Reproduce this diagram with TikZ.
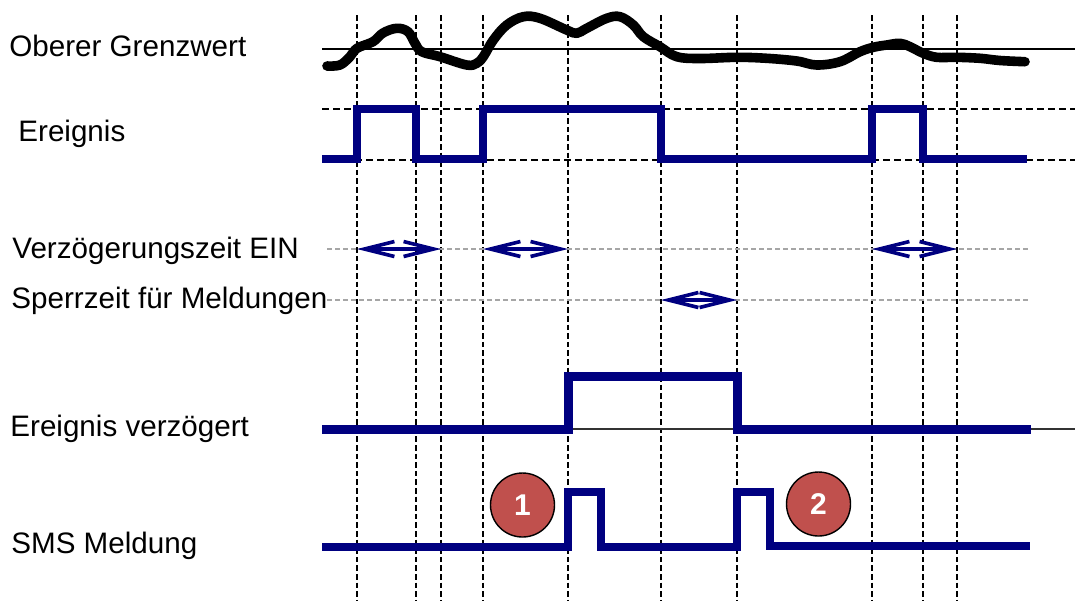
\documentclass[tikz,border=0pt]{standalone}
\usepackage{fontspec}
\setmainfont{Liberation Sans}
\usepackage{xcolor}
\usetikzlibrary{arrows.meta}
\definecolor{sigblue}{HTML}{000080}
\definecolor{markred}{HTML}{C0504D}
\definecolor{dotgray}{HTML}{A6A6A6}

\begin{document}
\begin{tikzpicture}[x=0.5pt, y=-0.5pt,
    signal/.style={draw=sigblue, line width=4pt, line join=miter},
    timeline/.style={black, line width=0.6pt, dash pattern=on 2.8pt off 1.5pt},
    levelline/.style={black, line width=0.6pt, dash pattern=on 3.5pt off 2pt},
    spanline/.style={dotgray, line width=1pt, dash pattern=on 2.5pt off 1.5pt},
    span/.style={sigblue, line width=1.8pt, {Straight Barb[length=15pt, width=7.5pt]}-{Straight Barb[length=15pt, width=7.5pt]}},
    lbl/.style={anchor=base west, inner sep=0pt, font=\fontsize{14.8}{17}\selectfont},
    marker/.style={circle, draw=black, line width=0.7pt, fill=markred, minimum size=32pt,
      inner sep=0pt, text=white, font=\fontsize{15}{18}\selectfont\bfseries}]
      \useasboundingbox (0,0) rectangle (1075,601);

      % Labels
      \node[lbl] (grenz) at (9,56.7) {Oberer Grenzwert};
      \node[lbl] (ereig) at (18,141.7) {Ereignis};
      \node[lbl] (verz) at (12,258.3) {Verzögerungszeit EIN};
      \node[lbl] (sperr) at (11,308.3) {Sperrzeit für Meldungen};
      \node[lbl] (ereigv) at (10,436.7) {Ereignis verzögert};
      \node[lbl] (sms) at (11,553) {SMS Meldung};

      % Time marks
      \foreach \t in {357,416,441,483,568,661,737,872,923,957}
        \draw[timeline] (\t,15) -- (\t,601);

      % Threshold and levels
      \draw[black, line width=0.65pt] (322,49) -- (1075,49);
      \draw[levelline] (322,109) -- (1075,109);
      \draw[levelline] (322,160) -- (1075,160);
      \draw[spanline] (327,249) -- (1028,249);
      \draw[spanline] (327,300) -- (1028,300);
      \draw[black!80, line width=0.65pt] (322,429) -- (1075,429);

      % Measured value
      \draw[black, line width=4.8pt, line cap=round, line join=round] plot[smooth, tension=0.6] coordinates {
        (327,66) (340,65) (350,56.7) (357,48.3) (373,41.7) (383,33) (396.7,28.3) (408,31.7)
        (415,43.3) (421.7,51.7) (440,56.7) (466.7,65) (476.7,63.3) (483.3,56.7) (493.3,40)
        (506.7,25) (523.3,16.7) (540,18.3) (566.7,30) (576.7,33.3) (586.7,28.3) (606.7,18.3)
        (620,16.7) (633.3,25) (643.3,36.7) (660,46.7) (676.7,56.7) (700,58.5) (736.7,57.3)
        (766.7,58.3) (796.7,61) (816.7,65) (840,61.7) (860,51.7) (873.3,47.3) (886.7,45)
        (900,43.3) (910,46.7) (923.3,53.3) (936.7,57.3) (956.7,57.3) (980,58.3) (1000,60.5)
        (1025,61.7)};

      % Event
      \draw[signal] (322,159) -- (357,159) -- (357,109) -- (416,109) -- (416,159) -- (483,159)
        -- (483,109) -- (661,109) -- (661,159) -- (872,159) -- (872,109) -- (923,109)
        -- (923,159) -- (1027,159);

      % Delay and lock spans
      \draw[span] (357,249) -- (441,249);
      \draw[span] (483,249) -- (568,249);
      \draw[span] (661,300) -- (737,300);
      \draw[span] (872,249) -- (957,249);

      % Delayed event
      \draw[signal, line width=4.5pt] (322,429) -- (568,429) -- (568,376) -- (737,376)
        -- (737,429) -- (1031,429);

      % SMS
      \draw[signal] (322,547) -- (568,547) -- (568,492) -- (601,492) -- (601,546.5)
        -- (737,546.5) -- (737,492) -- (770,492) -- (770,545.5) -- (1030,545.5);

      % Markers
      \node[marker] (m1) at (522.5,505) {1};
      \node[marker] (m2) at (818.5,504) {2};
    \end{tikzpicture}
\end{document}
